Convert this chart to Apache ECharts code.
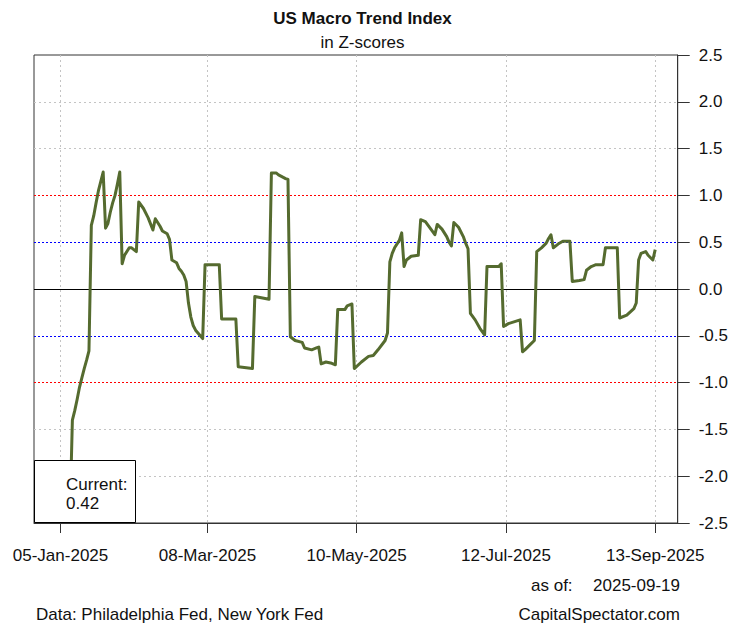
<!DOCTYPE html>
<html>
<head>
<meta charset="utf-8">
<script src="https://cdn.jsdelivr.net/npm/echarts@6/dist/echarts.min.js"></script>
<style>
html,body{margin:0;padding:0;background:#ffffff;}
#chart{width:731px;height:627px;}
</style>
</head>
<body>
<div id="chart"></div>
<script>
// ---- data ----
const obsDates = [
 "2025-01-09","2025-01-10","2025-01-11","2025-01-12","2025-01-13","2025-01-14","2025-01-15","2025-01-16","2025-01-17","2025-01-18",
 "2025-01-19","2025-01-20","2025-01-21","2025-01-22","2025-01-23","2025-01-24","2025-01-25","2025-01-26","2025-01-27","2025-01-28",
 "2025-01-29","2025-01-30","2025-01-31","2025-02-01","2025-02-03","2025-02-04","2025-02-06","2025-02-07","2025-02-09","2025-02-11",
 "2025-02-13","2025-02-14","2025-02-16","2025-02-17","2025-02-19","2025-02-20","2025-02-21","2025-02-23","2025-02-24","2025-02-25",
 "2025-02-26","2025-02-27","2025-02-28","2025-03-01","2025-03-02","2025-03-03","2025-03-04","2025-03-05","2025-03-06","2025-03-07",
 "2025-03-13","2025-03-14","2025-03-20","2025-03-21","2025-03-27","2025-03-28","2025-04-03","2025-04-04","2025-04-06","2025-04-07",
 "2025-04-10","2025-04-11","2025-04-12","2025-04-14","2025-04-17","2025-04-18","2025-04-21","2025-04-23","2025-04-24","2025-04-25",
 "2025-04-27","2025-04-29","2025-05-01","2025-05-02","2025-05-05","2025-05-06","2025-05-08","2025-05-09","2025-05-12","2025-05-15",
 "2025-05-17","2025-05-19","2025-05-22","2025-05-23","2025-05-24","2025-05-25","2025-05-26","2025-05-28","2025-05-29","2025-05-30",
 "2025-05-31","2025-06-02","2025-06-05","2025-06-06","2025-06-08","2025-06-10","2025-06-12","2025-06-13","2025-06-15","2025-06-17",
 "2025-06-18","2025-06-19","2025-06-20","2025-06-22","2025-06-24","2025-06-25","2025-06-26","2025-06-27","2025-06-29","2025-07-01",
 "2025-07-03","2025-07-04","2025-07-09","2025-07-10","2025-07-11","2025-07-13","2025-07-18","2025-07-19","2025-07-20","2025-07-22",
 "2025-07-24","2025-07-25","2025-07-27","2025-07-29","2025-07-30","2025-07-31","2025-08-01","2025-08-03","2025-08-05","2025-08-08",
 "2025-08-09","2025-08-12","2025-08-14","2025-08-15","2025-08-17","2025-08-19","2025-08-22","2025-08-23","2025-08-28","2025-08-29",
 "2025-09-01","2025-09-04","2025-09-05","2025-09-06","2025-09-07","2025-09-09","2025-09-10","2025-09-12","2025-09-13"
];
const indexValues = [
 -2.40,-1.40,-1.30,-1.18,-1.05,-0.95,-0.85,-0.76,-0.66,0.68,
 0.78,0.92,1.05,1.15,1.25,0.65,0.70,0.82,0.92,1.00,
 1.12,1.25,0.27,0.36,0.44,0.44,0.40,0.93,0.86,0.76,
 0.63,0.75,0.67,0.62,0.59,0.53,0.31,0.28,0.22,0.19,
 0.15,0.08,-0.15,-0.30,-0.39,-0.44,-0.47,-0.50,-0.53,0.26,
 0.26,-0.32,-0.32,-0.83,-0.85,-0.08,-0.11,1.24,1.24,1.22,
 1.18,1.17,-0.51,-0.55,-0.57,-0.63,-0.65,-0.63,-0.62,-0.80,
 -0.78,-0.79,-0.81,-0.22,-0.22,-0.18,-0.16,-0.85,-0.78,-0.72,
 -0.71,-0.65,-0.55,-0.47,0.29,0.38,0.44,0.52,0.60,0.24,
 0.31,0.35,0.36,0.74,0.72,0.65,0.58,0.69,0.64,0.56,
 0.50,0.46,0.71,0.66,0.56,0.49,0.43,-0.26,-0.33,-0.42,
 -0.49,0.24,0.24,0.27,-0.40,-0.37,-0.33,-0.67,-0.65,-0.60,
 -0.55,0.40,0.44,0.49,0.54,0.58,0.44,0.48,0.51,0.51,
 0.08,0.09,0.10,0.20,0.24,0.26,0.26,0.44,0.44,-0.31,
 -0.28,-0.21,-0.15,0.31,0.38,0.40,0.36,0.31,0.42
];
const tickDates  = ["2025-01-05","2025-03-08","2025-05-10","2025-07-12","2025-09-13"];
const tickLabels = ["05-Jan-2025","08-Mar-2025","10-May-2025","12-Jul-2025","13-Sep-2025"];
const grayLevels = [-2.0,-1.5,1.5,2.0];
const redLevels  = [-1.0,1.0];
const blueLevels = [-0.5,0.5];
const zeroLevels = [0];
const asOfDate = "2025-09-19";

// ---- helpers ----
const ORIGIN = Date.UTC(2025,0,4);
function dayOf(s){ const p = s.split('-').map(Number); return (Date.UTC(p[0],p[1]-1,p[2]) - ORIGIN)/86400000; }
const points = obsDates.map((d,i)=>[dayOf(d), indexValues[i]]);
const tickX = tickDates.map(dayOf);
const FONT = '"Liberation Sans", Arial, Helvetica, sans-serif';
const TXT = '#111111';

function refSeries(levels, color, type, name){
  return {
    type:'line', name:name, data:[], silent:true, z:1, symbol:'none', showSymbol:false,
    color:color,
    markLine:{
      silent:true, symbol:['none','none'], label:{show:false}, animation:false,
      lineStyle:{color:color, type:type, width:1, opacity:1},
      emphasis:{disabled:true},
      data: levels.map(v=>({yAxis:v}))
    }
  };
}

const chart = echarts.init(document.getElementById('chart'), null, {renderer:'svg', width:731, height:627});
chart.setOption({
  animation:false,
  backgroundColor:'#ffffff',
  title:[
    {text:'US Macro Trend Index', left:357.5, top:5, textAlign:'center',
     textStyle:{fontFamily:FONT, fontSize:17, fontWeight:'bold', color:TXT}},
    {text:'in Z-scores', left:357.5, top:29, textAlign:'center',
     textStyle:{fontFamily:FONT, fontSize:17, fontWeight:'normal', color:TXT}}
  ],
  grid:{left:34, right:50, top:55, bottom:104, show:true, borderColor:'#333333', borderWidth:1, backgroundColor:'transparent', containLabel:false},
  xAxis:{
    type:'value', min:-10.2, max:261.5,
    axisLine:{show:true, onZero:false, lineStyle:{color:'#333333', width:1}},
    axisTick:{show:true, length:10, customValues:tickX, lineStyle:{color:'#333333', width:1}},
    axisLabel:{customValues:tickX, margin:24, fontSize:17, fontFamily:FONT, color:TXT,
      formatter:function(v){ for(let i=0;i<tickX.length;i++){ if(Math.abs(tickX[i]-v)<1e-6) return tickLabels[i]; } return ''; }},
    splitLine:{show:true, lineStyle:{color:'#c4c4c4', type:[2,3], width:1}}
  },
  yAxis:{
    type:'value', position:'right', min:-2.5, max:2.5, interval:0.5,
    axisLine:{show:true, onZero:false, lineStyle:{color:'#333333', width:1}},
    axisTick:{show:true, length:12, lineStyle:{color:'#333333', width:1}},
    axisLabel:{margin:21, fontSize:17, fontFamily:FONT, color:TXT, formatter:function(v){return v.toFixed(1);}},
    splitLine:{show:false}
  },
  series:[
    refSeries(grayLevels, '#c4c4c4', [2,3], 'grid'),
    refSeries(redLevels, '#ff0000', [2,2], 'one sd'),
    refSeries(blueLevels, '#0000ff', [2,2], 'half sd'),
    refSeries(zeroLevels, '#000000', 'solid', 'zero'),
    {type:'line', name:'US Macro Trend Index', data:points, showSymbol:false, symbol:'none', z:5, clip:true,
     color:'#556B2F',
     lineStyle:{color:'#556B2F', width:3, join:'round'}}
  ],
  graphic:[
    {type:'rect', z:100, shape:{x:34.5, y:460.5, width:101, height:62}, style:{fill:'#ffffff', stroke:'#000000', lineWidth:1}},
    {type:'text', z:101, x:66, y:484, style:{text:'Current:', fontSize:17, fontFamily:FONT, fill:TXT, verticalAlign:'middle', align:'left'}},
    {type:'text', z:101, x:66, y:503, style:{text:indexValues[indexValues.length-1].toFixed(2), fontSize:17, fontFamily:FONT, fill:TXT, verticalAlign:'middle', align:'left'}},
    {type:'text', z:101, x:531, y:585, style:{text:'as of:', fontSize:17, fontFamily:FONT, fill:TXT, verticalAlign:'middle', align:'left'}},
    {type:'text', z:101, x:680, y:585, style:{text:asOfDate, fontSize:17, fontFamily:FONT, fill:TXT, verticalAlign:'middle', align:'right'}},
    {type:'text', z:101, x:36, y:614, style:{text:'Data: Philadelphia Fed, New York Fed', fontSize:17, fontFamily:FONT, fill:TXT, verticalAlign:'middle', align:'left'}},
    {type:'text', z:101, x:680, y:614, style:{text:'CapitalSpectator.com', fontSize:17, fontFamily:FONT, fill:TXT, verticalAlign:'middle', align:'right'}}
  ]
});
</script>
</body>
</html>
